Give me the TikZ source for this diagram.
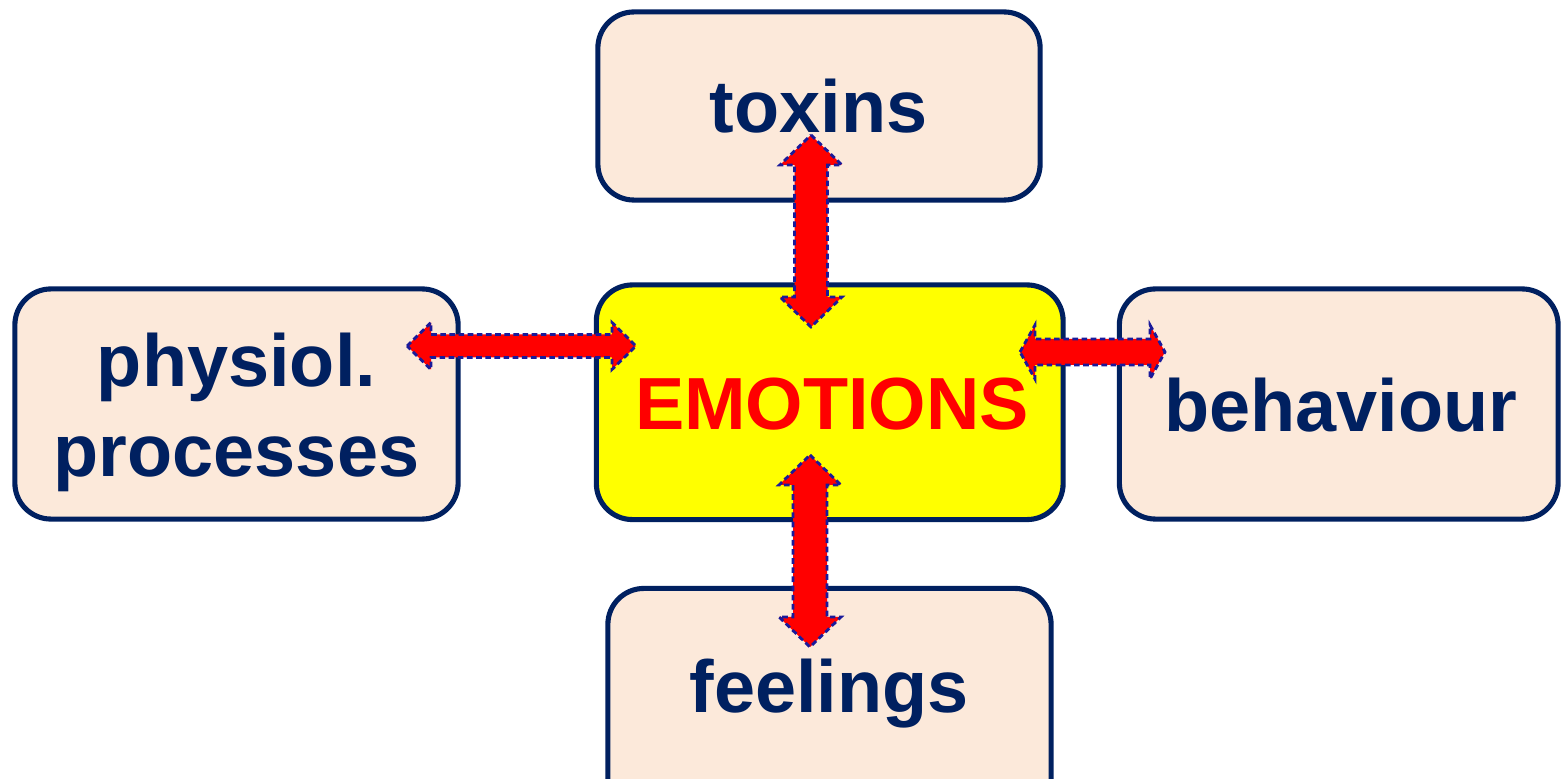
\documentclass[tikz,border=0pt]{standalone}
\usepackage{fontspec}
\setmainfont{Liberation Sans}
\definecolor{navy}{HTML}{002060}
\definecolor{peach}{HTML}{FCE9DA}
\definecolor{dashblue}{HTML}{1A1A9A}
\definecolor{puryellow}{HTML}{FFFF00}
\newcommand\vdblarrow[6]{%
  \draw[blockarrow] (#1,#2) -- ({#1+#5},{#2+#6}) -- ({#1+#4},{#2+#6}) -- ({#1+#4},{#3-#6}) -- ({#1+#5},{#3-#6}) -- (#1,#3)
    -- ({#1-#5},{#3-#6}) -- ({#1-#4},{#3-#6}) -- ({#1-#4},{#2+#6}) -- ({#1-#5},{#2+#6}) -- cycle;}
\newcommand\hdblarrow[6]{%
  \draw[blockarrow] (#1,#3) -- ({#1+#6},{#3-#5}) -- ({#1+#6},{#3-#4}) -- ({#2-#6},{#3-#4}) -- ({#2-#6},{#3-#5}) -- (#2,#3)
    -- ({#2-#6},{#3+#5}) -- ({#2-#6},{#3+#4}) -- ({#1+#6},{#3+#4}) -- ({#1+#6},{#3+#5}) -- cycle;}
\begin{document}
\begin{tikzpicture}[x=0.01cm,y=-0.01cm,
  box/.style={draw=navy,line width=1.45pt,fill=peach,rounded corners=0.36cm,rectangle,inner sep=0pt},
  lbl/.style={text=navy,font=\fontsize{21}{25}\selectfont\bfseries,anchor=base,inner sep=0pt},
  blockarrow/.style={fill=red,draw=dashblue,line width=0.8pt,dash pattern=on 1.6pt off 1pt,line join=miter}]
\useasboundingbox (0,0) rectangle (1562,779);
\fill[white] (0,0) rectangle (1562,779);
% boxes
\node[box,minimum width=4.42cm,minimum height=1.88cm] (toxbox) at (819,106) {};
\node[box,minimum width=4.43cm,minimum height=2.30cm] (physbox) at (236.5,404) {};
\node[box,fill=puryellow,minimum width=4.665cm,minimum height=2.345cm] (emobox) at (829.75,402.25) {};
\node[box,minimum width=4.385cm,minimum height=2.30cm] (behbox) at (1338.75,404) {};
\node[box,minimum width=4.43cm,minimum height=2.30cm] (feelbox) at (829.5,703.5) {};
% labels
\node[lbl] (tox) at (818.5,133) {toxins};
\node[lbl] (phys1) at (236.5,387) {physiol.};
\node[lbl] (phys2) at (236.5,477) {processes};
\node[lbl,text=red] (emo) at (832,430) {EMOTIONS};
\node[lbl] (beh) at (1341,432) {behaviour};
\node[lbl] (feel) at (829,713) {feelings};
% arrows
\vdblarrow{811}{135}{327}{16.5}{31}{30}
\vdblarrow{810}{455}{647}{17}{31}{30}
\hdblarrow{407}{636}{346}{11.5}{23.5}{24}
\hdblarrow{1020}{1165}{352}{13}{27}{15}
\end{tikzpicture}
\end{document}
